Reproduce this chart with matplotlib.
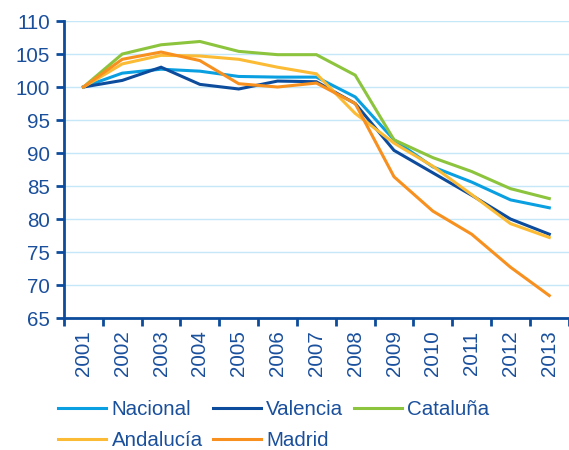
import matplotlib.pyplot as plt
import numpy as np

plt.rcParams['font.family'] = ['Liberation Sans', 'DejaVu Sans']

years = [str(y) for y in range(2001, 2014)]

nacional = [100, 102.1, 102.7, 102.4, 101.6, 101.5, 101.5, 98.5, 92.0, 87.9, 85.6, 82.9, 81.7]
valencia = [100, 101.0, 103.0, 100.4, 99.7, 100.9, 100.8, 97.5, 90.4, 87.0, 83.6, 80.0, 77.7]
cataluna = [100, 105.0, 106.4, 106.9, 105.4, 104.9, 104.9, 101.8, 92.0, 89.3, 87.2, 84.6, 83.1]
andalucia = [100, 103.5, 104.8, 104.7, 104.2, 103.0, 102.0, 96.0, 91.5, 88.0, 83.7, 79.3, 77.2]
madrid = [100, 104.2, 105.3, 104.0, 100.5, 100.0, 100.6, 97.5, 86.4, 81.2, 77.7, 72.7, 68.4]

series = [
    ("Nacional", nacional, "#0a9fe0"),
    ("Valencia", valencia, "#0d4c9c"),
    ("Cataluña", cataluna, "#8cc43e"),
    ("Andalucía", andalucia, "#fbbb34"),
    ("Madrid", madrid, "#f7901e"),
]

text_color = "#1a4f9c"
axis_color = "#0d4c9c"

fig = plt.figure(figsize=(5.69, 4.5), dpi=100)
ax = fig.add_axes([0.1125, 0.2933, 0.887, 0.6600])

x = np.arange(len(years))
lines = {}
for name, vals, col in series:
    lines[name], = ax.plot(x, vals, color=col, lw=2.2, label=name, solid_joinstyle="miter")

ax.set_xlim(-0.5, len(years) - 0.5)
ax.set_ylim(65, 110)
ax.set_yticks(range(65, 111, 5))
ax.yaxis.grid(True, color="#c6e7f8", lw=1.0)
ax.set_axisbelow(True)

ax.set_xticks(x)
ax.set_xticklabels(years, rotation=90)
ax.set_xticks(np.arange(-0.5, len(years), 1), minor=True)
ax.tick_params(axis="x", which="major", length=0, pad=9)
ax.tick_params(axis="x", which="minor", length=6, width=2, color=axis_color)
ax.tick_params(axis="y", length=6, width=2, color=axis_color, pad=4)
ax.tick_params(labelsize=14.8, labelcolor=text_color)

for s in ["top", "right"]:
    ax.spines[s].set_visible(False)
for s in ["left", "bottom"]:
    ax.spines[s].set_color(axis_color)
    ax.spines[s].set_linewidth(2)

# legend is filled row by row in the original
order = ["Nacional", "Andalucía", "Valencia", "Madrid", "Cataluña"]
leg = fig.legend([lines[n] for n in order], order, loc="upper left",
                 bbox_to_anchor=(0.102, 0.111), ncol=3,
                 frameon=False, fontsize=14.8, handlelength=2.35,
                 handletextpad=0.25, columnspacing=0.5, labelspacing=0.6,
                 borderaxespad=0, borderpad=0)
for t in leg.get_texts():
    t.set_color(text_color)

fig.savefig("out.png", dpi=100)
